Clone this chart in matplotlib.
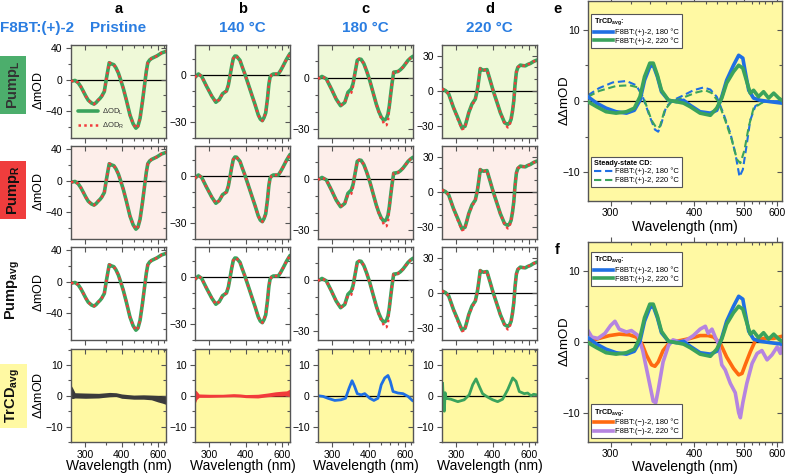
import numpy as np
import matplotlib
matplotlib.use("Agg")
import matplotlib.pyplot as plt
import matplotlib.lines as mlines

plt.rcParams['font.family'] = ['Liberation Sans', 'DejaVu Sans']
plt.rcParams['mathtext.default'] = 'regular'

# ---------------- data (wavelength in nm, signal in mOD) ----------------
# pump-probe spectra, one set per film condition (same in Pump_L / Pump_R / Pump_avg rows)
wl_pr = [273, 280, 286, 291, 296, 301, 306, 313, 319, 324, 329, 334, 338, 345, 351, 355, 359, 366,
         373, 380, 388, 396, 406, 418, 433, 447, 460, 470, 481, 494, 509, 517, 526, 538, 552, 570,
         589, 610, 632, 655, 674]
odL_pr = [-2, -1, -4, -9, -15, -21, -26, -29.5, -31, -29, -26, -23.5, -21, -15, 2, 12, 21.5, 20,
          19, 15, 8.6, 0, -11, -26, -45, -56, -61.5, -59, -49, -28, -2, 11, 21.5, 25, 27, 28.5,
          30, 32, 34, 35, 36]
odR_pr = odL_pr

wl_140 = [273, 279, 285, 294, 305, 314, 322, 330, 340, 345, 349, 354, 359, 364, 369, 380, 388, 397,
          410, 423, 438, 452, 462, 472, 481, 490, 500, 508, 515, 525, 536, 571, 590, 611, 640, 674]
odL_140 = [-1.5, 0.6, -1, -7, -13.4, -17.3, -15.6, -11.9, -10.2, -6.5, -1.5, 5, 10.4, 12, 11.9, 9.3,
           5, 0.6, -6, -12.3, -19, -25.3, -28, -29, -27, -24, -15, -6, -1.5, 0, 0.6, 0.6, 3, 6, 10, 13.6]
odR_140 = odL_140

wl_180 = [273, 280, 288, 298, 308, 318, 328, 336, 345, 350, 354, 358, 362, 368, 374, 383, 393, 404,
          416, 430, 441, 452, 461, 469, 478, 486, 493, 499, 509, 519, 533, 547, 565, 584, 605, 626,
          650, 674]
odL_180 = [-0.4, 1, -0.4, -6.3, -12.2, -16.1, -14.2, -8.3, -6.3, -3, 1.6, 6, 10.4, 11.2, 11, 8.5,
           4, -1.4, -8, -15.2, -19.5, -22.7, -24.2, -24.4, -23.5, -21, -16.5, -11.2, -3, 3.5, 3.7,
           3.9, 5, 6.5, 8.5, 10.4, 11.8, 12.8]
odR_180 = [-0.4, 1, -0.4, -6.3, -12.2, -16.1, -14.2, -9, -8.5, -4.5, 1.6, 6, 10.4, 11.2, 11, 8.5,
           4, -1.4, -8, -15.2, -19.8, -23.5, -25.5, -27.4, -27.5, -25, -17.5, -11.2, -3, 3.5, 3.7,
           3.9, 5, 6.5, 8.5, 10.4, 11.8, 12.8]

wl_220 = [273, 279, 285, 294, 303, 312, 319, 323, 328, 336, 345, 351, 355, 359, 364, 369, 380, 391,
          400, 410, 420, 430, 449, 464, 472, 481, 489, 496, 503, 511, 520, 536, 553, 571, 590, 611,
          640, 674]
odL_220 = [1.7, 0.3, -2.6, -14, -22.8, -31.4, -30, -25, -18.4, -11.2, -6.9, 1.7, 10, 19, 18, 17.6,
           18.1, 8.9, 1.5, -5.5, -12, -18.4, -27, -28.5, -27.5, -24.2, -17, -8.4, 5, 16, 20, 21.9,
           21.5, 21.3, 22.5, 23.3, 25, 26.2]
odR_220 = [1.7, 0.3, -2.6, -14, -24, -32.5, -31.5, -25, -18.4, -12.5, -6.9, 1.7, 10, 19, 18, 17.6,
           18.1, 8.9, 1.5, -5.5, -12, -18.4, -27.5, -31, -30, -24.2, -17, -8.4, 5, 16, 20, 21.9,
           21.5, 21.3, 22.5, 23.3, 25, 26.2]

# TrCD_avg (bottom row)
wl_band = [273, 276, 280, 300, 330, 360, 380, 400, 450, 500, 550, 600, 640, 674]
hi_pr = [3.5, 2.5, 1, 0.9, 0.8, 1.1, 1, 0.6, 0.2, 0.3, 0.2, 0.1, 0, -0.3]
lo_pr = [-0.8, -0.9, -0.7, -0.8, -0.7, -0.3, -0.2, -0.8, -1.1, -1.1, -1.3, -2, -2.4, -2.8]
hi_140 = [2, 1.5, 0.6, 0.5, 0.5, 0.7, 0.6, 0.4, 0.5, 0.9, 1.3, 1.5, 1.6, 2.2]
lo_140 = [-2.6, -1.2, -0.5, -0.5, -0.4, -0.3, -0.4, -0.6, -0.7, -0.3, -0.1, -0.1, 0, -0.3]

wl_tr180 = [274, 282, 291, 305, 319, 330, 339, 347, 354, 362, 374, 386, 404, 420, 437, 452, 469,
            486, 499, 515, 547, 584, 626, 667]
tr_180 = [0, -0.2, -0.8, -1.5, -1.3, -0.8, 2.5, 4.9, 3.1, 0.7, 0.3, 0.7, -0.8, -1.5, -0.8, 3.6,
          5.8, 6.6, 4.7, 1.4, 0.9, 0.7, -0.2, -1.5]
wl_tr220 = [274, 275.5, 277, 278.5, 280, 289, 303, 317, 329, 338, 347, 356, 366, 382, 400, 419,
            440, 464, 490, 509, 529, 563, 589, 617, 640, 674]
tr_220 = [4, -2, -5, 1, -0.8, -1.1, -1.9, -1.3, 0.3, 3.6, 5.5, 3.1, 0.7, -0.4, -1.3, -1.9, -1.1,
          2, 5.8, 4.7, 1.4, 0.7, 0.9, 0, 0.5, 0.3]

# panel e / f
wl_e180 = [281, 288, 296, 305, 315, 323, 329, 334, 340, 344, 349, 354, 363, 374, 384, 394, 410,
           428, 440, 450, 460, 475, 487, 497, 503, 512, 525, 544, 576, 617]
e_tr180 = [0.6, -0.3, -1, -1.5, -1.7, -1.3, 0.1, 2.9, 4.8, 5, 3.4, 1.3, 0.1, -0.1, 0.1, -0.6, -1.5,
           -1.7, -1.3, 0.6, 2.9, 5, 6.4, 6, 4.1, 1.5, 0.4, 0.1, -0.1, -0.3]
wl_e220 = [281, 288, 296, 305, 315, 323, 329, 334, 340, 344, 349, 354, 363, 374, 384, 394, 410,
           428, 440, 450, 460, 475, 487, 497, 507, 516, 525, 539, 554, 570, 587, 605, 617]
e_tr220 = [-0.1, -0.8, -1.5, -1.7, -1.5, -1, 0.6, 3.4, 5.3, 5.3, 3.6, 1.5, 0.1, -0.1, -0.3, -0.8,
           -1.7, -2, -1, 0.4, 2.5, 4.1, 5, 4.6, 2.7, 1.1, 1.5, 0.6, 1.3, 0.4, 1.1, 0.4, 0.1]
wl_cd180 = [281, 290, 302, 315, 325, 332, 340, 346, 350, 354, 360, 369, 384, 399, 416, 428, 440,
            453, 468, 479, 489, 497, 506, 516, 530, 554, 617]
cd_180 = [0.8, 1.8, 2.6, 2.8, 2.2, 0.6, -2.2, -4, -4.3, -3.1, -0.8, 0.1, 0.8, 1.5, 1.9, 1.6, 0.6,
          -1.7, -4.5, -7.3, -10.6, -9.6, -6.4, -2.7, -0.7, -0.1, 0]
wl_cd220 = [281, 290, 305, 318, 327, 334, 342, 348, 352, 358, 367, 384, 404, 419, 431, 443, 457,
            471, 483, 491, 501, 512, 525, 554, 617]
cd_220 = [0.6, 1.4, 2.1, 2.2, 1.9, 0.1, -2.7, -3.8, -3.6, -1.3, -0.1, 0.5, 1.2, 1.5, 1.1, -0.1,
          -2.7, -5.4, -8.2, -8.7, -6.9, -3.6, -1, -0.1, 0]
wl_m180 = [281, 290, 299, 308, 318, 325, 331, 336, 342, 346, 350, 356, 365, 379, 394, 410, 424,
           434, 447, 460, 475, 487, 495, 503, 516, 530, 554, 587, 617]
m_tr180 = [0, 0.5, 0.9, 1.1, 1, 0.7, -0.2, -1.8, -3.2, -3.4, -2.8, -1.2, 0, 0.2, 0.5, 0.9, 0.9,
           0.7, -0.2, -2.1, -3.7, -4.6, -4.4, -3.2, -1.4, 0.2, 0.5, 0.5, 0.8]
wl_m220 = [281, 284, 289, 295, 300, 304, 308, 315, 320, 327, 332, 338, 344, 347, 350, 356, 363,
           369, 379, 389, 399, 410, 419, 424, 431, 437, 443, 450, 457, 468, 479, 487, 491, 497,
           507, 521, 535, 549, 565, 581, 599, 611, 617]
m_tr220 = [1.6, 0.7, 0.5, 1.2, 2.3, 2.9, 1.8, 1.4, 1.6, 0.9, -1.2, -4.8, -8.3, -8.5, -6.7, -2.8,
           -0.5, 0.3, 0, 0.3, 0.9, 1.8, 2.2, 1.2, 1.8, 0.7, -0.2, -3.2, -3.9, -5.8, -7.1, -9.9,
           -10.6, -8.5, -5.8, -3, -1.6, -1.2, -2.5, -1.8, -0.7, -1.6, -0.2]

# ---------------- style ----------------
GREEN, RED, BLUE = '#3aa35c', '#f23b3b', '#1f6fe3'
ORANGE, PURPLE, GRAY = '#ff6a10', '#b584e0', '#3b3b3b'
BG_L, BG_R, BG_Y = '#eff9d8', '#fdeeea', '#fff9a3'
HEAD = '#2a7de1'
EDGE = '#555555'

W, H = 785, 476
fig = plt.figure(figsize=(W / 100, H / 100), dpi=100)


def add_box(left, top, w, h):
    return fig.add_axes([left / W, 1 - (top + h) / H, w / W, h / H])


def energy(w):
    # axis linear in photon energy (1/wavelength)
    with np.errstate(divide='ignore'):
        return -1.0 / np.asarray(w, dtype=float)


def style(ax, xlim, ylim, yt, ytm, xt, xtm, xlab=True):
    ax.set_xscale('function', functions=(energy, energy))
    ax.set_xlim(*xlim)
    ax.set_ylim(*ylim)
    ax.set_xticks(xt)
    ax.set_xticks(xtm, minor=True)
    ax.set_yticks(yt)
    ax.set_yticks(ytm, minor=True)
    ax.axhline(0, color='k', lw=0.9, zorder=1)
    for s in ax.spines.values():
        s.set_color(EDGE)
        s.set_linewidth(1.0)
    ax.tick_params(which='both', direction='out', top=True, right=True, color=EDGE,
                   width=0.8, labelsize=7.5, pad=2.5)
    ax.tick_params(which='major', length=3.5)
    ax.tick_params(which='minor', length=2)
    if not xlab:
        ax.tick_params(labelbottom=False)
    # mirrored ticks on top/right point inwards
    for t in ax.xaxis.get_major_ticks() + ax.xaxis.get_minor_ticks():
        t.tick2line.set_marker(mlines.TICKDOWN)
    for t in ax.yaxis.get_major_ticks() + ax.yaxis.get_minor_ticks():
        t.tick2line.set_marker(mlines.TICKLEFT)


col_left = [71, 195, 318, 442]
row_top = [45, 146, 247, 349]
PW, PH = 95, 93
XL = (273, 674)
XT, XTM = [300, 400, 600], [350, 450, 500, 550, 650]

pump_sets = [(wl_pr, odL_pr, odR_pr), (wl_140, odL_140, odR_140),
             (wl_180, odL_180, odR_180), (wl_220, odL_220, odR_220)]
ylims = [(-74, 44), (-40, 19), (-35, 19.4), (-40, 39)]
yticks = [([-40, 0, 40], [-60, -20, 20]), ([-30, 0], [-40, -20, -10, 10]),
          ([-30, 0], [-20, -10, 10]), ([-30, 0, 30], [-20, -10, 10, 20])]
row_bg = [BG_L, BG_R, 'white']

for c in range(4):
    wl, odl, odr = pump_sets[c]
    for r in range(3):
        ax = add_box(col_left[c], row_top[r], PW, PH)
        ax.set_facecolor(row_bg[r])
        ax.plot(wl, odl, color=GREEN, lw=2.6, solid_capstyle='round', label=r'$\Delta$OD$_L$', zorder=2)
        ax.plot(wl, odr, color=RED, lw=1.8, ls=(0, (1, 1.3)), label=r'$\Delta$OD$_R$', zorder=3)
        style(ax, XL, ylims[c], yticks[c][0], yticks[c][1], XT, XTM, xlab=False)
        if c == 0 and r == 0:
            ax.legend(loc='lower left', bbox_to_anchor=(0.0, 0.0), frameon=False, fontsize=5.5,
                      handlelength=2.6, handletextpad=0.5, labelspacing=0.5, labelcolor='#333333')

    # TrCD row
    ax = add_box(col_left[c], row_top[3], PW, PH)
    ax.set_facecolor(BG_Y)
    if c == 0:
        ax.fill_between(wl_band, lo_pr, hi_pr, color=GRAY, lw=0, zorder=2)
    elif c == 1:
        ax.fill_between(wl_band, lo_140, hi_140, color=RED, lw=0, zorder=2)
    elif c == 2:
        ax.plot(wl_tr180, tr_180, color=BLUE, lw=2, zorder=2)
    else:
        ax.plot(wl_tr220, tr_220, color=GREEN, lw=2, zorder=2)
    style(ax, XL, (-15, 15.2), [-10, 0, 10], [-15, -5, 5, 15], XT, XTM)
    fig.text((col_left[c] + PW / 2) / W, 1 - 466 / H, 'Wavelength (nm)', ha='center', va='center',
             fontsize=10)

# y labels of the grid
for yc in [91, 192, 293]:
    fig.text(39 / W, 1 - yc / H, r'$\Delta$mOD', rotation=90, ha='center', va='center', fontsize=9)
fig.text(39 / W, 1 - 395 / H, r'$\Delta\Delta$mOD', rotation=90, ha='center', va='center', fontsize=9)

# column headers
for c, (letter, title) in enumerate(zip(['a', 'b', 'c', 'd'],
                                        ['Pristine', '140 °C', '180 °C', '220 °C'])):
    xc = (col_left[c] + PW / 2) / W
    fig.text(xc, 1 - 9 / H, letter, ha='center', va='center', fontsize=10.5, fontweight='bold')
    fig.text(xc, 1 - 28 / H, title, ha='center', va='center', fontsize=11, fontweight='bold', color=HEAD)
fig.text(0, 1 - 28 / H, 'F8BT:(+)-2', ha='left', va='center', fontsize=11, fontweight='bold', color=HEAD)

# row labels
fig.text(13 / W, 1 - 85 / H, r'Pump$_{L}$', rotation=90, ha='center', va='center', fontsize=10.5,
         fontweight='bold', color='#333333',
         bbox=dict(boxstyle='square,pad=0.3', fc='#4cae6c', ec='none'))
fig.text(13 / W, 1 - 190 / H, r'Pump$_{R}$', rotation=90, ha='center', va='center', fontsize=10.5,
         fontweight='bold', color='#111111',
         bbox=dict(boxstyle='square,pad=0.3', fc='#ef3d3d', ec='none'))
fig.text(13 / W, 1 - 290 / H, r'Pump$_{avg}$', rotation=90, ha='center', va='center', fontsize=10.5,
         fontweight='bold', color='#111111')
fig.text(13 / W, 1 - 396 / H, r'TrCD$_{avg}$', rotation=90, ha='center', va='center', fontsize=10.5,
         fontweight='bold', color='#111111',
         bbox=dict(boxstyle='square,pad=0.3', fc=BG_Y, ec='none'))

# ---------------- panels e and f ----------------
XLE = (281, 617)
XTE = [300, 400, 500, 600]
XTEM = [320, 340, 360, 380, 420, 440, 460, 480, 520, 540, 560, 580]
leg_kw = dict(fontsize=5.5, title_fontproperties={'weight': 'bold', 'size': 5.2}, alignment='left',
              fancybox=False, edgecolor=EDGE, framealpha=1, borderpad=0.35, labelspacing=0.15,
              handlelength=2.5, handletextpad=0.3, borderaxespad=0)


def side_panel(top, lines_top, lines_bot, title_bot, anchor_top, anchor_bot):
    ax = add_box(588, top, 194, 200)
    ax.set_facecolor(BG_Y)
    h1 = [ax.plot(x, y, color=col, lw=2.6, label=lab, zorder=3)[0] for x, y, col, lab in lines_top]
    h2 = [ax.plot(x, y, color=col, lw=lw, ls=ls, label=lab, zorder=2)[0]
          for x, y, col, lab, lw, ls in lines_bot]
    style(ax, XLE, (-14, 14), [-10, 0, 10], [-5, 5], XTE, XTEM)
    ax.tick_params(axis='x', pad=1.5)
    leg1 = ax.legend(handles=h1, title=r'TrCD$_{avg}$:', loc='upper left', bbox_to_anchor=anchor_top,
                     **leg_kw)
    leg1.get_frame().set_linewidth(0.8)
    ax.add_artist(leg1)
    leg2 = ax.legend(handles=h2, title=title_bot, loc='lower left', bbox_to_anchor=anchor_bot, **leg_kw)
    leg2.get_frame().set_linewidth(0.8)
    fig.text(564 / W, 1 - (top + 100) / H, r'$\Delta\Delta$mOD', rotation=90, ha='center', va='center',
             fontsize=9.5)
    return ax


tr_plus = [(wl_e180, e_tr180, BLUE, 'F8BT:(+)-2, 180 °C'),
           (wl_e220, e_tr220, GREEN, 'F8BT:(+)-2, 220 °C')]

axe = side_panel(1, tr_plus,
                 [(wl_cd180, cd_180, BLUE, 'F8BT:(+)-2, 180 °C', 1.5, (0, (3.5, 1.8))),
                  (wl_cd220, cd_220, GREEN, 'F8BT:(+)-2, 220 °C', 1.5, (0, (3.5, 1.8)))],
                 'Steady-state CD:', (0.015, 0.935), (0.015, 0.07))
fig.text(685 / W, 1 - 227 / H, 'Wavelength (nm)', ha='center', va='center', fontsize=10)
fig.text(557 / W, 1 - 9 / H, 'e', ha='center', va='center', fontsize=10.5, fontweight='bold')

axf = side_panel(242, tr_plus,
                 [(wl_m180, m_tr180, ORANGE, 'F8BT:(\u2212)-2, 180 °C', 2.6, '-'),
                  (wl_m220, m_tr220, PURPLE, 'F8BT:(\u2212)-2, 220 °C', 2.6, '-')],
                 r'TrCD$_{avg}$:', (0.015, 0.95), (0.015, 0.02))
fig.text(685 / W, 1 - 467 / H, 'Wavelength (nm)', ha='center', va='center', fontsize=10)
fig.text(557 / W, 1 - 250 / H, 'f', ha='center', va='center', fontsize=10.5, fontweight='bold')

fig.savefig('out.png', dpi=100)
